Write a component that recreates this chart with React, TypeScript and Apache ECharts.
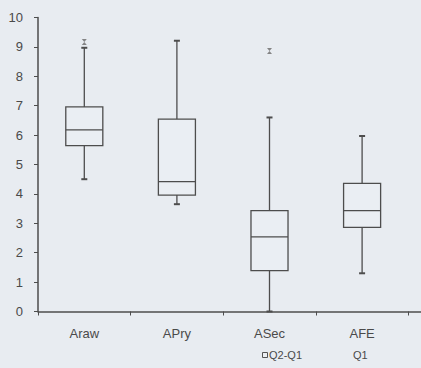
import React, { useEffect, useRef } from "react";
import * as echarts from "echarts";

const categories = ["Araw", "APry", "ASec", "AFE", ""];
// [min, q1, median, q3, max]
const boxValues: number[][] = [
  [4.5, 5.64, 6.18, 6.96, 8.97],
  [3.65, 3.96, 4.42, 6.54, 9.21],
  [0, 1.39, 2.54, 3.43, 6.6],
  [1.3, 2.86, 3.43, 4.36, 5.97],
];
// [categoryIndex, value]
const outliers: number[][] = [
  [0, 9.17],
  [2, 8.86],
];
const yTicks = { min: 0, max: 10, interval: 1 };
const legendLabels = ["Q2-Q1", "Q1"];

const LINE = "#4d4d4d";
const TEXT = "#4a4a4a";
const FONT = "Liberation Sans, Arial, sans-serif";

export default function App() {
  const ref = useRef<HTMLDivElement>(null);
  useEffect(() => {
    if (!ref.current) return;
    const chart = echarts.init(ref.current, undefined, { renderer: "svg" });
    const data = boxValues.map((b, i) => [i, ...b]);
    chart.setOption({
      animation: false,
      backgroundColor: "#e8ecf1",
      grid: { left: 38, top: 17.5, width: 463, height: 294, outerBoundsMode: "none", containLabel: false },
      xAxis: {
        type: "category",
        data: categories,
        boundaryGap: true,
        axisLine: { show: true, lineStyle: { color: LINE, width: 1.5 } },
        axisTick: { show: true, length: 4, alignWithLabel: false, lineStyle: { color: LINE } },
        axisLabel: { color: TEXT, fontSize: 13, fontFamily: FONT, margin: 15, interval: 0 },
        splitLine: { show: false },
      },
      yAxis: {
        type: "value",
        min: yTicks.min,
        max: yTicks.max,
        interval: yTicks.interval,
        axisLine: { show: true, lineStyle: { color: LINE, width: 1.5 } },
        axisTick: { show: true, length: 4, lineStyle: { color: LINE } },
        axisLabel: { color: TEXT, fontSize: 13, fontFamily: FONT, margin: 15 },
        splitLine: { show: false },
      },
      series: [
        {
          type: "custom",
          data,
          renderItem: (params: any, api: any) => {
            const idx = api.value(0);
            const vals = [1, 2, 3, 4, 5].map((k) => api.value(k));
            const pts = vals.map((v) => api.coord([idx, v]));
            const cx = pts[0][0];
            const bw = (api.size([1, 0])[0] as number) * 0.4;
            const half = bw / 2;
            const capHalf = 3;
            const yMin = pts[0][1];
            const yQ1 = pts[1][1];
            const yMed = pts[2][1];
            const yQ3 = pts[3][1];
            const yMax = pts[4][1];
            const ls = { stroke: LINE, lineWidth: 1.3, fill: "none" };
            return {
              type: "group",
              children: [
                { type: "line", shape: { x1: cx, y1: yMin, x2: cx, y2: yQ1 }, style: ls },
                { type: "line", shape: { x1: cx, y1: yQ3, x2: cx, y2: yMax }, style: ls },
                { type: "line", shape: { x1: cx - capHalf, y1: yMin, x2: cx + capHalf, y2: yMin }, style: { ...ls, lineWidth: 2 } },
                { type: "line", shape: { x1: cx - capHalf, y1: yMax, x2: cx + capHalf, y2: yMax }, style: { ...ls, lineWidth: 2 } },
                { type: "rect", shape: { x: cx - half, y: yQ3, width: bw, height: yQ1 - yQ3 }, style: { stroke: LINE, lineWidth: 1.3, fill: "#eaeef3" } },
                { type: "line", shape: { x1: cx - half, y1: yMed, x2: cx + half, y2: yMed }, style: ls },
              ],
            };
          },
          z: 3,
        },
        {
          type: "scatter",
          data: outliers,
          symbol: "path://M0,0L10,0L5,6L10,12L0,12L5,6Z",
          symbolSize: [5, 6],
          itemStyle: { color: "#6a6a6a" },
          z: 4,
        },
      ],
      graphic: [
        { type: "rect", left: 262, top: 352, shape: { width: 5, height: 5 }, style: { stroke: "#555", fill: "#eceff3", lineWidth: 1 } },
        { type: "text", left: 269, top: 349, style: { text: legendLabels[0], fill: TEXT, font: `11px ${FONT}` } },
        { type: "text", left: 353, top: 349, style: { text: legendLabels[1], fill: TEXT, font: `11px ${FONT}` } },
      ],
    });
    return () => chart.dispose();
  }, []);
  return <div ref={ref} style={{ position: "fixed", left: 0, top: 0, width: 421, height: 368 }} />;
}
